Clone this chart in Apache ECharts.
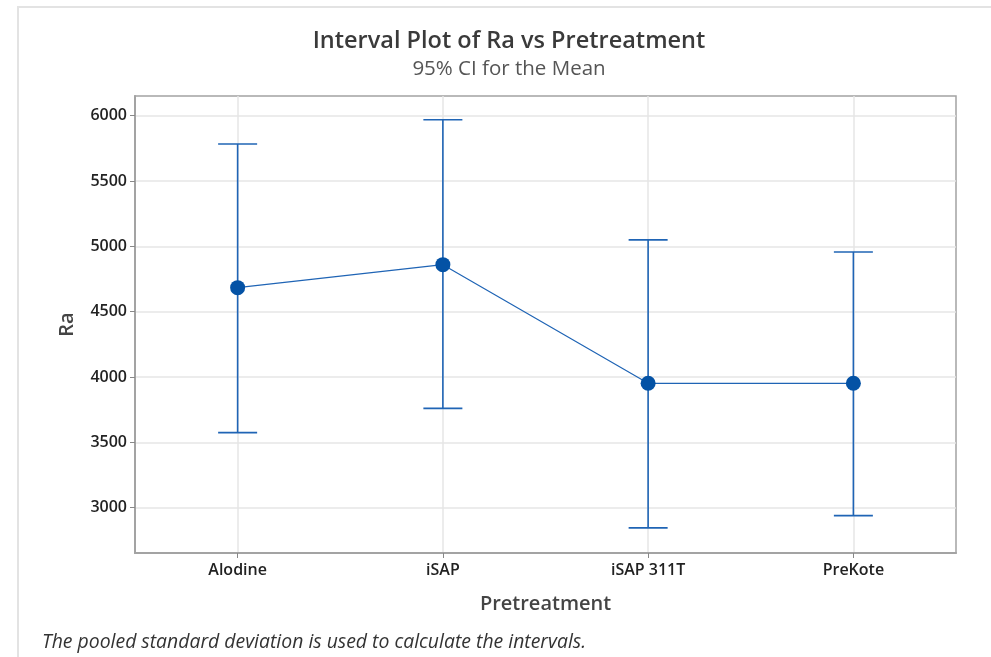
<!DOCTYPE html>
<html>
<head>
<meta charset="utf-8">
<script src="https://cdn.jsdelivr.net/npm/echarts@6/dist/echarts.min.js"></script>
<style>
  html, body { margin: 0; padding: 0; background: #fff; }
  #chart { width: 991px; height: 657px; }
</style>
</head>
<body>
<div id="chart"></div>
<script>
const categories = ['Alodine', 'iSAP', 'iSAP 311T', 'PreKote'];
const means = [4684, 4860, 3952, 3952];
const upper = [5784, 5969, 5050, 4957];
const lower = [3574, 3760, 2845, 2939];
const yTicks = [3000, 3500, 4000, 4500, 5000, 5500, 6000];

const titleText = 'Interval Plot of Ra vs Pretreatment';
const subtitleText = '95% CI for the Mean';
const footnoteText = 'The pooled standard deviation is used to calculate the intervals.';

const blue = '#1f64b5';
const dotBlue = '#0452a5';
const font = '"Open Sans", "Noto Sans", sans-serif';

const chart = echarts.init(document.getElementById('chart'), null, { renderer: 'canvas' });

const intervalData = categories.map((c, i) => [i, lower[i], upper[i]]);
const meanData = categories.map((c, i) => [i, means[i]]);
const catIdx = categories.map((c, i) => i);

chart.setOption({
  backgroundColor: '#ffffff',
  animation: false,
  graphic: [
    { type: 'rect', z: -10, silent: true,
      shape: { x: 18, y: 7, width: 1100, height: 800 },
      style: { fill: 'none', stroke: '#e3e3e3', lineWidth: 2 } },
    { type: 'text', x: 509, y: 41, silent: true,
      style: { text: titleText, fill: '#3a3a3a', font: '600 23.5px ' + font,
               textAlign: 'center', textVerticalAlign: 'middle' } },
    { type: 'text', x: 509, y: 69, silent: true,
      style: { text: subtitleText, fill: '#555555', font: '400 20.5px ' + font,
               textAlign: 'center', textVerticalAlign: 'middle' } },
    { type: 'text', x: 42, y: 642, silent: true,
      style: { text: footnoteText, fill: '#333333', font: 'italic 400 19.4px ' + font,
               textAlign: 'left', textVerticalAlign: 'middle' } }
  ],
  grid: {
    left: 135, top: 96, right: 35, bottom: 104,
    show: true, borderColor: '#a3a3a3', borderWidth: 1.5, backgroundColor: '#fff',
    containLabel: false
  },
  xAxis: {
    type: 'value',
    min: -0.5, max: 3.5,
    name: 'Pretreatment',
    nameLocation: 'middle',
    nameGap: 41,
    nameTextStyle: { fontFamily: font, fontSize: 20, fontWeight: 600, color: '#444' },
    axisLine: { show: true, onZero: false, lineStyle: { color: '#a3a3a3', width: 2 } },
    axisTick: { show: true, customValues: catIdx, length: 5, lineStyle: { color: '#888' } },
    axisLabel: {
      customValues: catIdx,
      formatter: v => categories[Math.round(v)] || '',
      fontFamily: font, fontSize: 16, fontWeight: 600, color: '#222', margin: 9
    },
    splitLine: { show: true, lineStyle: { color: '#e6e6e6', width: 1.5 } }
  },
  yAxis: {
    type: 'value',
    min: 2653, max: 6151,
    name: 'Ra',
    nameLocation: 'middle',
    nameGap: 58,
    nameRotate: 90,
    nameTextStyle: { fontFamily: font, fontSize: 20, fontWeight: 600, color: '#444' },
    axisLine: { show: true, onZero: false, lineStyle: { color: '#a3a3a3', width: 2 } },
    axisTick: { show: true, customValues: yTicks, length: 5, lineStyle: { color: '#888' } },
    axisLabel: {
      customValues: yTicks,
      formatter: v => String(v),
      fontFamily: font, fontSize: 16, fontWeight: 600, color: '#222', margin: 8
    },
    splitLine: { show: true, lineStyle: { color: '#e6e6e6', width: 1.5 } }
  },
  series: [
    {
      type: 'custom',
      z: 2,
      data: intervalData,
      encode: { x: 0, y: [1, 2] },
      renderItem: function (params, api) {
        const x = api.value(0);
        const pLo = api.coord([x, api.value(1)]);
        const pHi = api.coord([x, api.value(2)]);
        const hw = 19.5;
        const st = { stroke: blue, lineWidth: 1.6 };
        return {
          type: 'group',
          children: [
            { type: 'line', shape: { x1: pLo[0], y1: pLo[1], x2: pHi[0], y2: pHi[1] }, style: st },
            { type: 'line', shape: { x1: pHi[0] - hw, y1: pHi[1], x2: pHi[0] + hw, y2: pHi[1] }, style: st },
            { type: 'line', shape: { x1: pLo[0] - hw, y1: pLo[1], x2: pLo[0] + hw, y2: pLo[1] }, style: st }
          ]
        };
      }
    },
    {
      type: 'line',
      z: 3,
      data: meanData,
      symbol: 'circle',
      symbolSize: 15,
      itemStyle: { color: dotBlue },
      lineStyle: { color: blue, width: 1.2 }
    }
  ]
});
</script>
</body>
</html>
